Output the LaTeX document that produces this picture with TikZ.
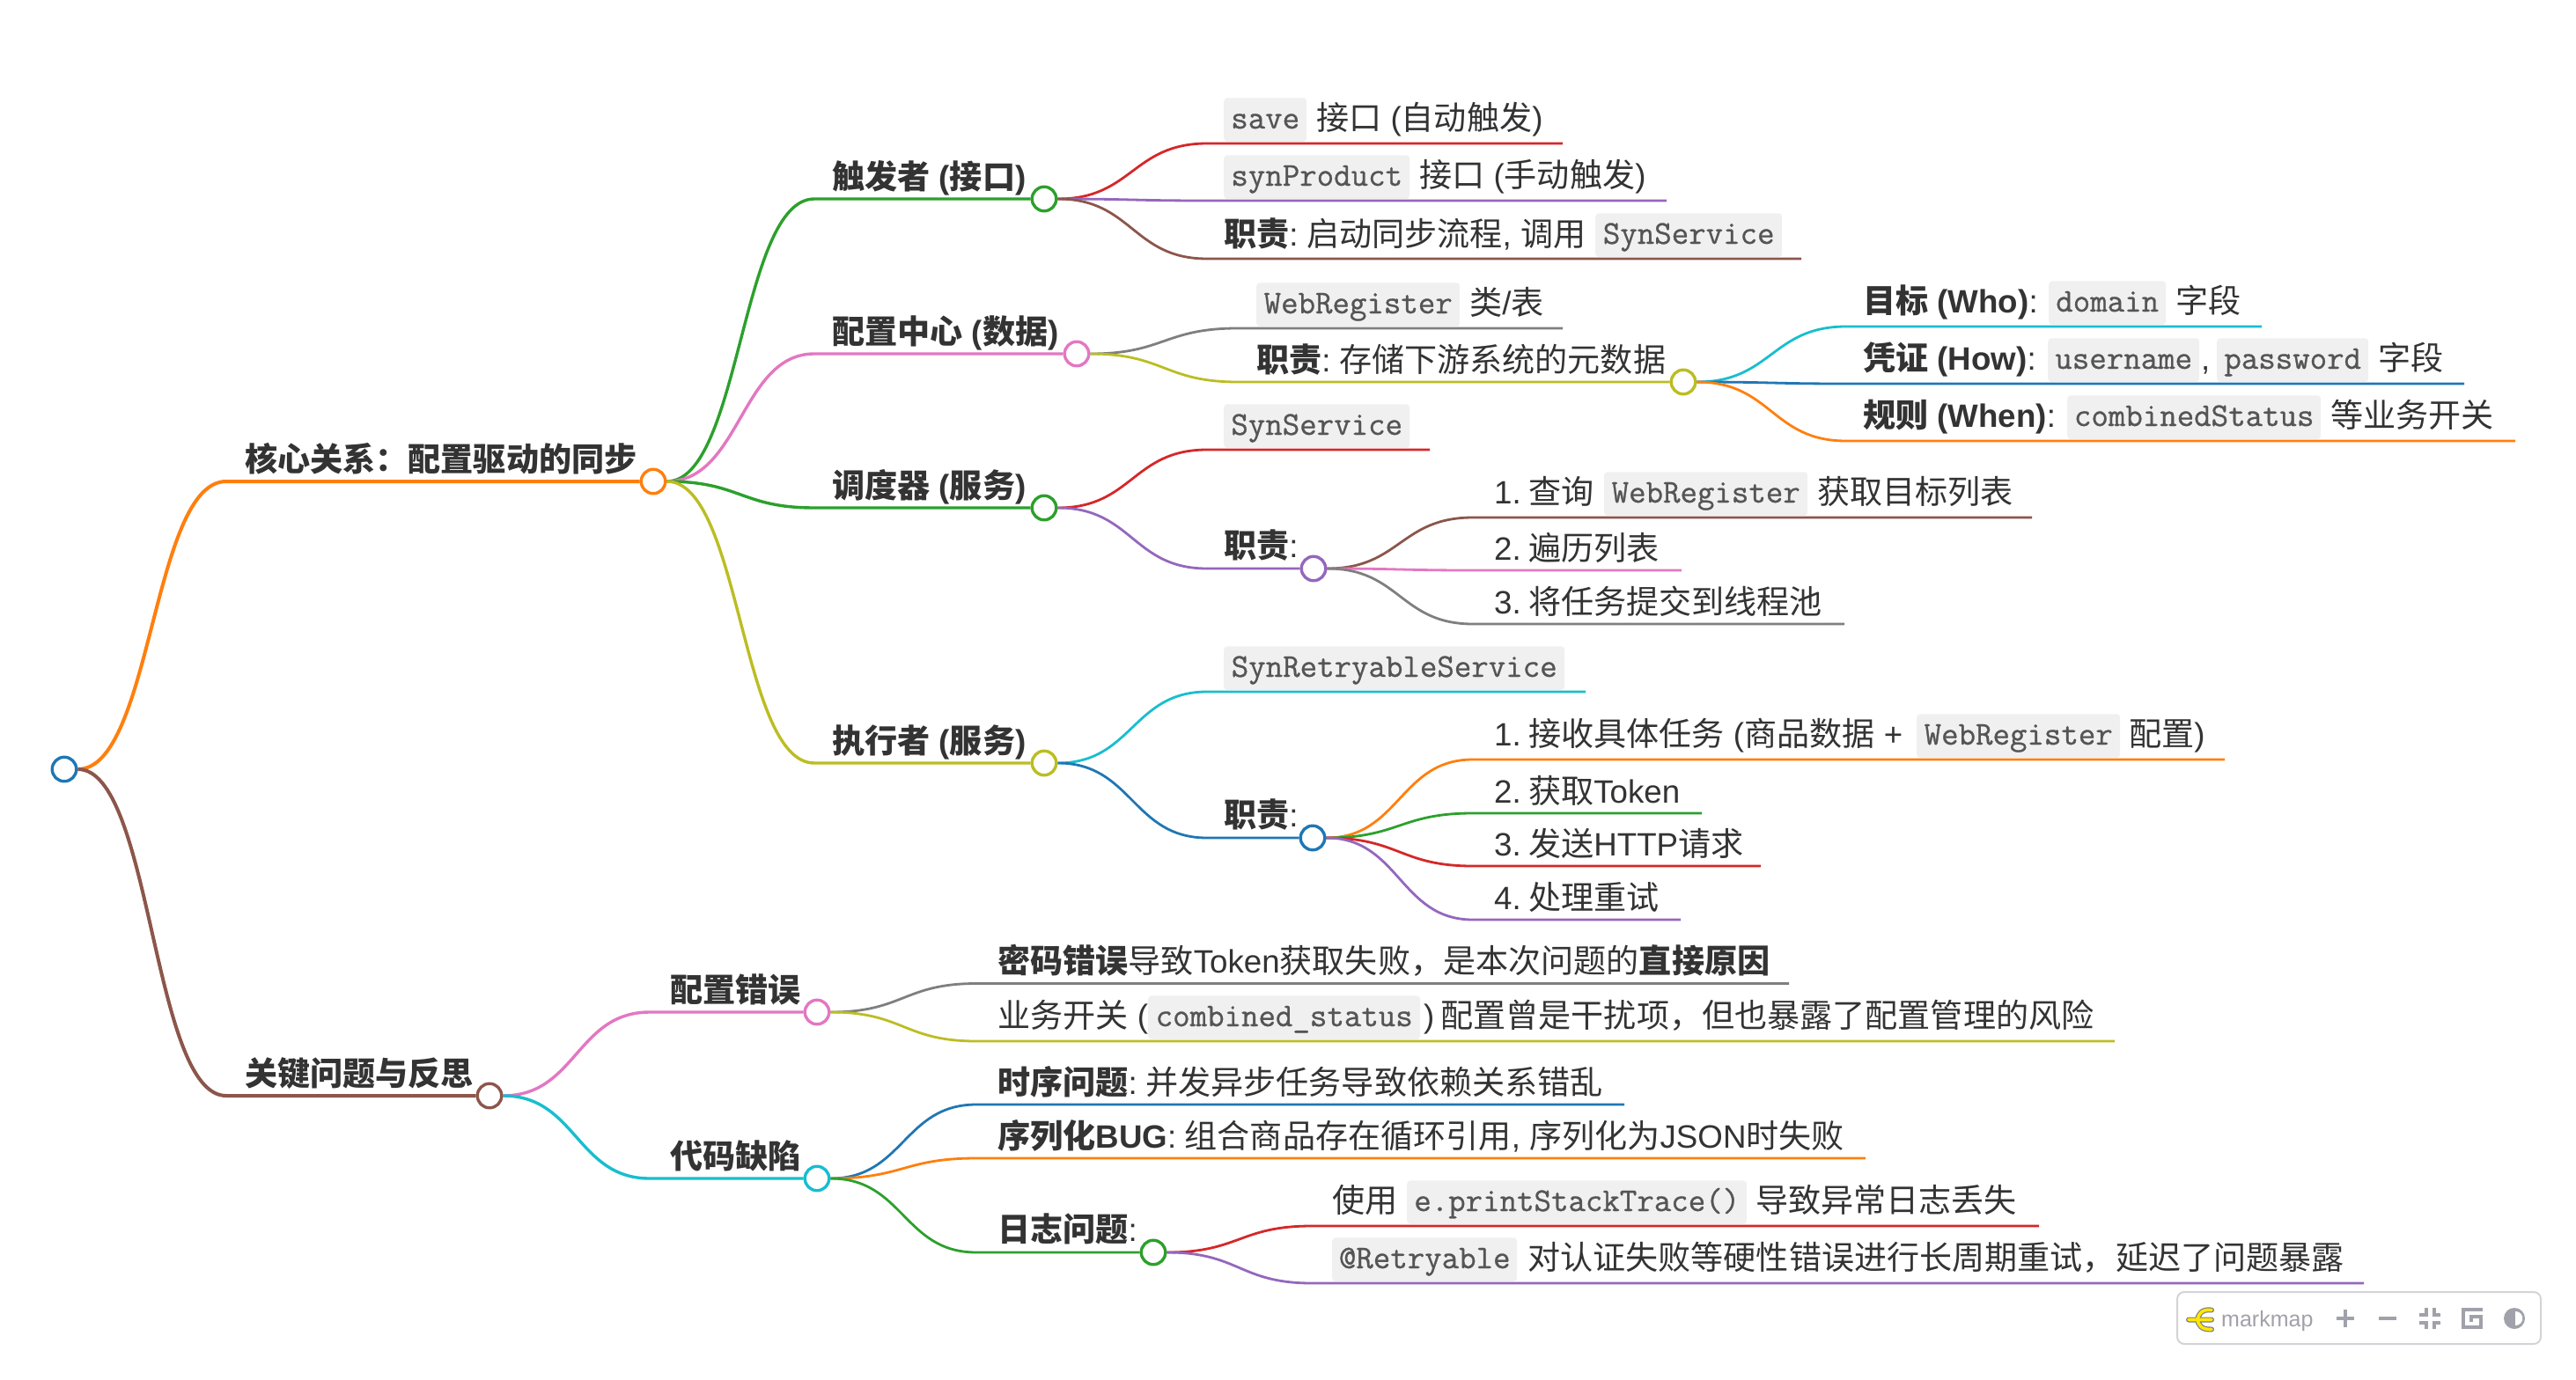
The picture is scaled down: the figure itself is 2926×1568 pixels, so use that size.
\documentclass[tikz,border=0pt]{standalone}
\usepackage{fontspec}
\usetikzlibrary{calc,backgrounds}
\setmainfont{Liberation Sans}
\setmonofont[RawFeature={embolden=0.8}]{Latin Modern Mono}
\newfontfamily\cjk[Scale=1.011]{Noto Sans CJK SC}
\newcommand\C[1]{{\cjk #1}}
\newcommand\B[1]{\textbf{#1}}
\definecolor{cblue}{HTML}{1F77B4}
\definecolor{corange}{HTML}{FF7F0E}
\definecolor{cgreen}{HTML}{2CA02C}
\definecolor{cred}{HTML}{D62728}
\definecolor{cpurple}{HTML}{9467BD}
\definecolor{cbrown}{HTML}{8C564B}
\definecolor{cpink}{HTML}{E377C2}
\definecolor{cgray}{HTML}{7F7F7F}
\definecolor{colive}{HTML}{BCBD22}
\definecolor{ccyan}{HTML}{17BECF}
\definecolor{txt}{HTML}{333333}
\definecolor{codetxt}{HTML}{555555}
\definecolor{codebg}{HTML}{F0F0F0}
\definecolor{tool}{HTML}{A1A1AA}
\definecolor{toolframe}{HTML}{D4D4D8}
\tikzset{
  lab/.style={anchor=base west,inner sep=0pt,text=txt,font=\fontsize{36.7}{44}\selectfont},
  leaf/.style={lab,yshift=-1.5pt},
  cod/.style={anchor=base west,fill=codebg,rounded corners=4pt,inner xsep=0pt,inner ysep=0pt,
    text height=34.7pt,text depth=15pt,text=codetxt,align=center,font=\fontsize{37.8}{44}\selectfont\ttfamily},
  dot/.style={circle,draw=#1,fill=white,line width=3.4pt,minimum size=27.5pt,inner sep=0pt},
  toolicon/.style={draw=tool,line width=4.5pt},
}
% colour, width, source node, x where the curve meets the horizontal, end
\newcommand\lnk[5]{%
  \draw[color=#1,line width=#2pt] let \p1=(#3.east),\p2=(#5),\n1={(\x1+#4pt)/2} in
    (\p1) .. controls (\n1,\y1) and (\n1,\y2) .. (#4pt,\y2) -- (#5);}
\newcommand\Num[1]{#1.\hspace{8.3pt}}
\newcommand\Col{:\hspace{9.5pt}}
\begin{document}
\begin{tikzpicture}[x=1pt,y=-1pt]
\useasboundingbox (0,0) rectangle (2926,1568);
% branching dots
\node[dot=cblue] (root) at (73,874) {};
\node[dot=corange] (core) at (742,547) {};
\node[dot=cbrown] (issues) at (556,1245) {};
\node[dot=cgreen] (trig) at (1186,226) {};
\node[dot=cpink] (conf) at (1223,402) {};
\node[dot=cgreen] (sched) at (1186,577) {};
\node[dot=colive] (exec) at (1186,867) {};
\node[dot=colive] (confduty) at (1912,434) {};
\node[dot=cpurple] (schedduty) at (1492,646) {};
\node[dot=cblue] (execduty) at (1491,952) {};
\node[dot=cpink] (cfgerr) at (928,1150) {};
\node[dot=ccyan] (codedef) at (928,1339) {};
\node[dot=cgreen] (logissue) at (1310,1423) {};
% free ends of the leaf lines
\coordinate (eSave) at (1775,163);
\coordinate (eSyn) at (1893,228);
\coordinate (eTrigDuty) at (2046,294);
\coordinate (eWeb) at (1775,373);
\coordinate (eWho) at (2569,371);
\coordinate (eHow) at (2799,436);
\coordinate (eWhen) at (2857,501);
\coordinate (eSynS) at (1624,511);
\coordinate (eS1) at (2308,588);
\coordinate (eS2) at (1910,648);
\coordinate (eS3) at (2095,709);
\coordinate (eRetry) at (1801,786);
\coordinate (eE1) at (2527,863);
\coordinate (eE2) at (1933,924);
\coordinate (eE3) at (2000,984);
\coordinate (eE4) at (1909,1045);
\coordinate (ePwd) at (2032,1117.5);
\coordinate (eBiz) at (2402,1183);
\coordinate (eTime) at (1845,1255);
\coordinate (eSer) at (2119,1316);
\coordinate (eUse) at (2316,1393);
\coordinate (eAt) at (2685,1458);
% labels
\node[lab] (tCore) at (278,535) {\B{\C{核心关系：配置驱动的同步}}};
\node[lab] (tIssues) at (278,1233) {\B{\C{关键问题与反思}}};
\node[lab] (tTrig) at (945,214) {\B{\C{触发者} (\C{接口})}};
\node[lab] (tConf) at (945,390) {\B{\C{配置中心} (\C{数据})}};
\node[lab] (tSched) at (945,565) {\B{\C{调度器} (\C{服务})}};
\node[lab] (tExec) at (945,855) {\B{\C{执行者} (\C{服务})}};
\node[lab] (tCfgErr) at (761,1138) {\B{\C{配置错误}}};
\node[lab] (tCodeDef) at (761,1327) {\B{\C{代码缺陷}}};
% trigger
\node[cod,minimum width=94pt] (cSave) at (1390,146) {save};
\node[leaf] (tSave) at (1495,146) {\C{接口} (\C{自动触发})};
\node[cod,minimum width=211pt] (cSyn) at (1390,211) {synProduct};
\node[leaf] (tSyn) at (1612,211) {\C{接口} (\C{手动触发})};
\node[leaf] (tTrigDuty) at (1390,278) {\B{\C{职责}}\Col\C{启动同步流程}, \C{调用}};
\node[cod,minimum width=212pt] (cTrigDuty) at (1812,277) {SynService};
% config
\node[cod,minimum width=231pt] (cWeb) at (1427,356) {WebRegister};
\node[leaf] (tWeb) at (1669,356) {\C{类}/\C{表}};
\node[leaf] (tConfDuty) at (1427,421) {\B{\C{职责}}\Col\C{存储下游系统的元数据}};
\node[leaf] (tWho) at (2116,354) {\B{\C{目标} (Who)}:};
\node[cod,minimum width=133pt] (cWho) at (2327,354) {domain};
\node[leaf] (tWho2) at (2471,354) {\C{字段}};
\node[leaf] (tHow) at (2116,419) {\B{\C{凭证} (How)}:};
\node[cod,minimum width=172pt] (cHow) at (2326,419) {username};
\node[leaf] (tHowC) at (2500,419) {,};
\node[cod,minimum width=172pt] (cHow2) at (2518,419) {password};
\node[leaf] (tHow2) at (2701,419) {\C{字段}};
\node[leaf] (tWhen) at (2116,484) {\B{\C{规则} (When)}:};
\node[cod,minimum width=288pt] (cWhen) at (2348,484) {combinedStatus};
\node[leaf] (tWhen2) at (2647,484) {\C{等业务开关}};
% scheduler
\node[cod,minimum width=211pt] (cSynS) at (1390,494) {SynService};
\node[leaf] (tSchedDuty) at (1390,632) {\B{\C{职责}}:};
\node[leaf] (tS1) at (1697,571) {\Num{1}\C{查询}};
\node[cod,minimum width=231pt] (cS1) at (1822,571) {WebRegister};
\node[leaf] (tS1b) at (2064,571) {\C{获取目标列表}};
\node[leaf] (tS2) at (1697,635) {\Num{2}\C{遍历列表}};
\node[leaf] (tS3) at (1697,696) {\Num{3}\C{将任务提交到线程池}};
% executor
\node[cod,minimum width=387pt] (cRetry) at (1390,769) {SynRetryableService};
\node[leaf] (tExecDuty) at (1390,938) {\B{\C{职责}}:};
\node[leaf] (tE1) at (1697,846) {\Num{1}\C{接收具体任务} (\C{商品数据} +};
\node[cod,minimum width=231pt] (cE1) at (2177,846) {WebRegister};
\node[leaf] (tE1b) at (2418,846) {\C{配置})};
\node[leaf] (tE2) at (1697,911) {\Num{2}\C{获取}Token};
\node[leaf] (tE3) at (1697,971) {\Num{3}\C{发送}HTTP\C{请求}};
\node[leaf] (tE4) at (1697,1032) {\Num{4}\C{处理重试}};
% issues
\node[leaf] (tPwd) at (1133,1104) {\B{\C{密码错误}}\C{导致}Token\C{获取失败，是本次问题的}\B{\C{直接原因}}};
\node[leaf] (tBiz) at (1133,1166) {\C{业务开关} (};
\node[cod,minimum width=309pt] (cBiz) at (1304,1166) {combined\_status};
\node[leaf] (tBiz2) at (1617,1166) {)\hspace{7pt}\C{配置曾是干扰项，但也暴露了配置管理的风险}};
\node[leaf] (tTime) at (1133,1242) {\B{\C{时序问题}}\Col\C{并发异步任务导致依赖关系错乱}};
\node[leaf] (tSer) at (1133,1303) {\B{\C{序列化}BUG}\Col\C{组合商品存在循环引用}, \C{序列化为}JSON\C{时失败}};
\node[leaf] (tLog) at (1133,1409) {\B{\C{日志问题}}:};
\node[leaf] (tUse) at (1513,1376) {\C{使用}};
\node[cod,minimum width=386pt] (cUse) at (1598,1376) {e.printStackTrace()};
\node[leaf] (tUse2) at (1994,1376) {\C{导致异常日志丢失}};
\node[cod,minimum width=210pt] (cAt) at (1513,1441) {@Retryable};
\node[leaf] (tAt) at (1735,1441) {\C{对认证失败等硬性错误进行长周期重试，延迟了问题暴露}};
% connectors
\begin{scope}[on background layer]
\fill[white] (0,0) rectangle (2926,1568);
\lnk{corange}{4}{root}{257}{core}
\lnk{cbrown}{4}{root}{257}{issues}
\lnk{cgreen}{3.4}{core}{925}{trig}
\lnk{cpink}{3.4}{core}{925}{conf}
\lnk{cgreen}{3.4}{core}{925}{sched}
\lnk{colive}{3.4}{core}{925}{exec}
\lnk{cred}{2.8}{trig}{1371}{eSave}
\lnk{cpurple}{2.8}{trig}{1371}{eSyn}
\lnk{cbrown}{2.8}{trig}{1371}{eTrigDuty}
\lnk{cgray}{2.8}{conf}{1406}{eWeb}
\lnk{colive}{2.8}{conf}{1406}{confduty}
\lnk{ccyan}{2.8}{confduty}{2097}{eWho}
\lnk{cblue}{2.8}{confduty}{2097}{eHow}
\lnk{corange}{2.8}{confduty}{2097}{eWhen}
\lnk{cred}{2.8}{sched}{1371}{eSynS}
\lnk{cpurple}{2.8}{sched}{1371}{schedduty}
\lnk{cbrown}{2.8}{schedduty}{1673}{eS1}
\lnk{cpink}{2.8}{schedduty}{1673}{eS2}
\lnk{cgray}{2.8}{schedduty}{1673}{eS3}
\lnk{ccyan}{2.8}{exec}{1371}{eRetry}
\lnk{cblue}{2.8}{exec}{1371}{execduty}
\lnk{corange}{2.8}{execduty}{1673}{eE1}
\lnk{cgreen}{2.8}{execduty}{1673}{eE2}
\lnk{cred}{2.8}{execduty}{1673}{eE3}
\lnk{cpurple}{2.8}{execduty}{1673}{eE4}
\lnk{cpink}{3.4}{issues}{738}{cfgerr}
\lnk{ccyan}{3.4}{issues}{738}{codedef}
\lnk{cgray}{2.8}{cfgerr}{1109}{ePwd}
\lnk{colive}{2.8}{cfgerr}{1109}{eBiz}
\lnk{cblue}{2.8}{codedef}{1109}{eTime}
\lnk{corange}{2.8}{codedef}{1109}{eSer}
\lnk{cgreen}{2.8}{codedef}{1109}{logissue}
\lnk{cred}{2.8}{logissue}{1490}{eUse}
\lnk{cpurple}{2.8}{logissue}{1490}{eAt}
\end{scope}
% markmap toolbar
\draw[toolframe,line width=2pt,rounded corners=8pt] (2473,1468) rectangle (2886,1527);
\foreach \w/\c in {6/gray,3.6/yellow!90!orange}{
  \draw[\c,line width=\w pt,line cap=round]
    (2486,1499.5) -- (2512,1499.5)
    (2512,1488.5) .. controls (2500,1487) and (2497,1494) .. (2496,1499.5)
      .. controls (2497,1505) and (2500,1511) .. (2512,1510.5);
}
\node[anchor=base west,inner sep=0pt,text=tool,font=\fontsize{25}{30}\selectfont] (tool) at (2523,1507) {markmap};
\draw[toolicon] (2654,1498) -- (2674,1498) (2664,1488) -- (2664,1508);
\draw[toolicon] (2702,1498) -- (2722,1498);
\draw[toolicon,line width=4pt]
  (2755.5,1486) -- (2755.5,1493.5) -- (2748,1493.5)
  (2764.5,1486) -- (2764.5,1493.5) -- (2772,1493.5)
  (2755.5,1510) -- (2755.5,1502.5) -- (2748,1502.5)
  (2764.5,1510) -- (2764.5,1502.5) -- (2772,1502.5);
\draw[toolicon,line width=4pt]
  (2820,1488) -- (2798,1488) -- (2798,1508) -- (2818,1508) -- (2818,1496) -- (2807,1496) -- (2807,1502);
\fill[tool] (2856,1498) circle (12);
\fill[white] (2857,1490) .. controls (2868,1490) and (2868,1506) .. (2857,1506) -- cycle;
\end{tikzpicture}
\end{document}
